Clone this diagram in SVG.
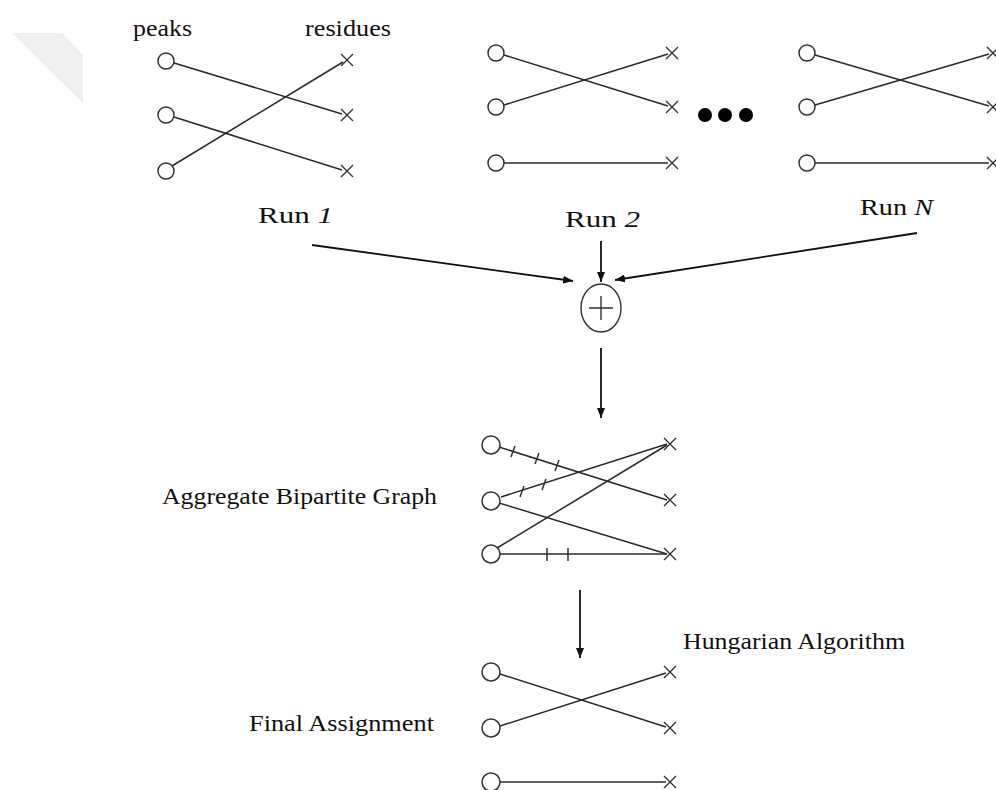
<svg xmlns="http://www.w3.org/2000/svg" width="996" height="790" viewBox="0 0 996 790">
<defs>
<style>
.pk{fill:#fff;stroke:#333;stroke-width:1.5}
.rs{stroke:#333;stroke-width:1.4;fill:none}
.ln{stroke:#2a2a2a;stroke-width:1.5;fill:none}
.ar{stroke:#111;stroke-width:1.8;fill:none}
.tk{stroke:#333;stroke-width:1.5}
.t{font-family:"Liberation Serif","Times New Roman",serif;font-size:23px;fill:#111}
.r{font-family:"Liberation Serif","Times New Roman",serif;font-size:24px;fill:#111}
</style>
<marker id="ah" viewBox="0 0 10 8" refX="10" refY="4" markerWidth="10" markerHeight="8" markerUnits="userSpaceOnUse" orient="auto">
<path d="M0,0 L10,4 L0,8 Z" fill="#111"/>
</marker>
<g id="x"><path d="M-6,-6 L6,6 M-6,6 L6,-6" class="rs"/></g>
</defs>
<rect width="996" height="790" fill="#fff"/>
<polygon points="12,33 62,33 83,55 83,103" fill="#efefef"/>

<g id="labels-top">
<text class="t" x="133" y="36" textLength="59" lengthAdjust="spacingAndGlyphs">peaks</text>
<text class="t" x="305" y="36" textLength="86" lengthAdjust="spacingAndGlyphs">residues</text>
</g>

<g id="run1">
<line class="ln" x1="174" y1="63" x2="342" y2="114"/>
<line class="ln" x1="174" y1="117" x2="342" y2="170"/>
<line class="ln" x1="172" y1="166" x2="343" y2="62"/>
<circle class="pk" cx="166" cy="61" r="8"/>
<circle class="pk" cx="166" cy="115" r="8"/>
<circle class="pk" cx="166" cy="171" r="8"/>
<use href="#x" x="347" y="60"/>
<use href="#x" x="347" y="115"/>
<use href="#x" x="347" y="171"/>
</g>

<g id="run2">
<line class="ln" x1="504" y1="55" x2="668" y2="106"/>
<line class="ln" x1="504" y1="105" x2="668" y2="54"/>
<line class="ln" x1="504" y1="163" x2="668" y2="163"/>
<circle class="pk" cx="496" cy="53" r="8"/>
<circle class="pk" cx="496" cy="107" r="8"/>
<circle class="pk" cx="496" cy="163" r="8"/>
<use href="#x" x="672" y="53"/>
<use href="#x" x="672" y="107"/>
<use href="#x" x="672" y="163"/>
</g>

<g id="dots" fill="#000">
<circle cx="705" cy="115" r="7"/>
<circle cx="725" cy="115" r="7"/>
<circle cx="746" cy="115" r="7"/>
</g>

<g id="runN">
<line class="ln" x1="815" y1="55" x2="989" y2="106"/>
<line class="ln" x1="815" y1="105" x2="989" y2="54"/>
<line class="ln" x1="815" y1="163" x2="989" y2="163"/>
<circle class="pk" cx="807" cy="53" r="8"/>
<circle class="pk" cx="807" cy="107" r="8"/>
<circle class="pk" cx="807" cy="163" r="8"/>
<use href="#x" x="993" y="53"/>
<use href="#x" x="993" y="107"/>
<use href="#x" x="993" y="163"/>
</g>

<g id="run-labels">
<text class="r" x="258" y="223" textLength="75" lengthAdjust="spacingAndGlyphs">Run <tspan font-style="italic">1</tspan></text>
<text class="r" x="565" y="227" textLength="75" lengthAdjust="spacingAndGlyphs">Run <tspan font-style="italic">2</tspan></text>
<text class="r" x="860" y="215" textLength="73" lengthAdjust="spacingAndGlyphs">Run <tspan font-style="italic">N</tspan></text>
</g>

<g id="sum">
<ellipse cx="601" cy="308" rx="20" ry="24" fill="#fff" stroke="#333" stroke-width="1.4"/>
<path d="M589,308 L613,308 M601,296 L601,320" stroke="#333" stroke-width="1.4"/>
</g>

<g id="connectors">
<line class="ar" x1="312" y1="245" x2="573" y2="281" marker-end="url(#ah)"/>
<line class="ar" x1="601" y1="241" x2="601" y2="282" stroke-width="1.4" marker-end="url(#ah)"/>
<line class="ar" x1="917" y1="233" x2="615" y2="280" marker-end="url(#ah)"/>
<line class="ar" x1="601" y1="348" x2="601" y2="418" stroke-width="1.6" marker-end="url(#ah)"/>
<line class="ar" x1="580" y1="590" x2="580" y2="658" stroke-width="1.6" marker-end="url(#ah)"/>
</g>

<g id="aggregate">
<line class="ln" x1="499" y1="447" x2="667" y2="500"/>
<line class="ln" x1="501" y1="497" x2="667" y2="444"/>
<line class="ln" x1="499" y1="503" x2="667" y2="554"/>
<line class="ln" x1="497" y1="548" x2="667" y2="445"/>
<line class="ln" x1="500" y1="554" x2="667" y2="554"/>
<path class="tk" d="M511,457 L515,446 M535,464 L539,453 M555,471 L559,460 M520,497 L524,486 M542,490 L546,479 M547,548 L547,561 M568,548 L568,561"/>
<circle class="pk" cx="491" cy="445" r="9"/>
<circle class="pk" cx="491" cy="501" r="9"/>
<circle class="pk" cx="491" cy="554" r="9"/>
<use href="#x" x="670" y="444"/>
<use href="#x" x="670" y="500"/>
<use href="#x" x="670" y="554"/>
<text class="t" x="162" y="504" textLength="275" lengthAdjust="spacingAndGlyphs">Aggregate Bipartite Graph</text>
</g>

<g id="hungarian">
<text class="t" x="683" y="649" textLength="222" lengthAdjust="spacingAndGlyphs">Hungarian Algorithm</text>
</g>

<g id="final">
<line class="ln" x1="500" y1="674" x2="666" y2="727"/>
<line class="ln" x1="500" y1="726" x2="666" y2="673"/>
<line class="ln" x1="500" y1="782" x2="666" y2="782"/>
<circle class="pk" cx="491" cy="672" r="9"/>
<circle class="pk" cx="491" cy="728" r="9"/>
<circle class="pk" cx="491" cy="782" r="9"/>
<use href="#x" x="670" y="672"/>
<use href="#x" x="670" y="728"/>
<use href="#x" x="670" y="782"/>
<text class="t" x="249" y="731" textLength="185" lengthAdjust="spacingAndGlyphs">Final Assignment</text>
</g>
</svg>
